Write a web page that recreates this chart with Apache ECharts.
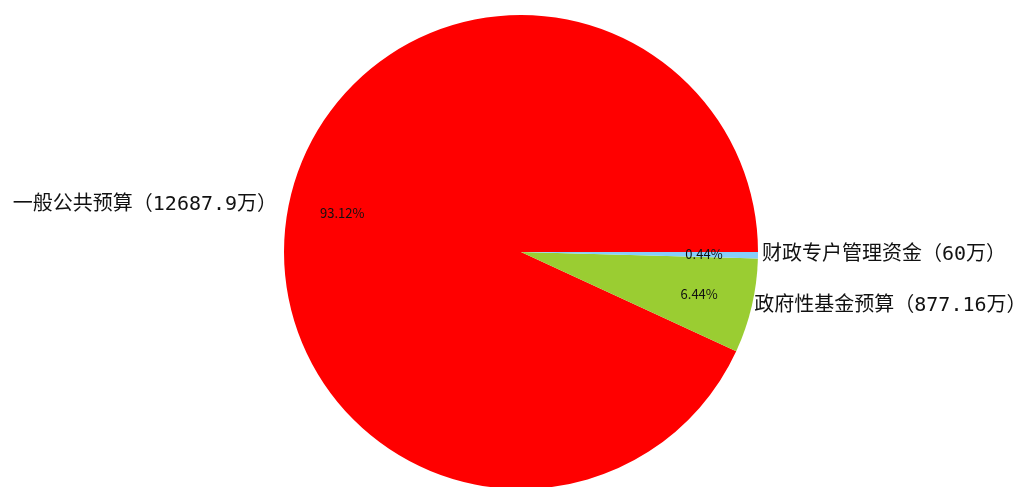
<!DOCTYPE html>
<html>
<head>
<meta charset="utf-8">
<script src="https://cdn.jsdelivr.net/npm/echarts@6/dist/echarts.min.js"></script>
<style>
html,body{margin:0;padding:0;background:#fff;}
#chart{width:1033px;height:487px;}
</style>
</head>
<body>
<div id="chart"></div>
<script>
const categories = ['一般公共预算', '政府性基金预算', '财政专户管理资金'];
const values = [12687.9, 877.16, 60];
const colors = ['#ff0000', '#9acd32', '#87cefa'];

const total = values.reduce((a, b) => a + b, 0);
const CX = 521, CY = 252, R = 237;
const lineTweaks = [
  { length: -18, length2: 30 },
  { length: 0, length2: 2.5 },
  { length: 0, length2: 4 }
];

const outerData = categories.map((name, i) => ({
  name: name,
  value: values[i],
  itemStyle: { color: colors[i] },
  labelLine: { show: false, length: lineTweaks[i].length, length2: lineTweaks[i].length2 }
}));
const innerData = categories.map((name, i) => ({
  name: name,
  value: values[i]
}));

const chart = echarts.init(document.getElementById('chart'), null, { renderer: 'canvas' });
chart.setOption({
  backgroundColor: '#ffffff',
  animation: false,
  series: [
    {
      type: 'pie',
      center: [CX, CY],
      radius: [0, R],
      startAngle: 0,
      clockwise: false,
      avoidLabelOverlap: false,
      silent: true,
      emphasis: { disabled: true },
      itemStyle: { borderWidth: 0 },
      label: {
        show: true,
        position: 'outside',
        distanceToLabelLine: 0,
        color: '#111',
        fontSize: 20,
        fontFamily: '"DejaVu Sans Mono", "Noto Sans CJK SC", sans-serif',
        formatter: p => p.name + '（' + p.value + '万）'
      },
      labelLine: { show: false },
      data: outerData
    },
    {
      type: 'pie',
      center: [CX, CY],
      radius: [123, R],
      startAngle: 0,
      clockwise: false,
      avoidLabelOverlap: false,
      silent: true,
      emphasis: { disabled: true },
      itemStyle: { color: 'rgba(0,0,0,0)', borderWidth: 0 },
      label: {
        show: true,
        position: 'inside',
        color: '#111',
        fontSize: 13,
        fontFamily: '"Noto Sans CJK SC", sans-serif',
        formatter: p => (p.value / total * 100).toFixed(2) + '%'
      },
      labelLine: { show: false },
      data: innerData
    }
  ]
});
</script>
</body>
</html>
